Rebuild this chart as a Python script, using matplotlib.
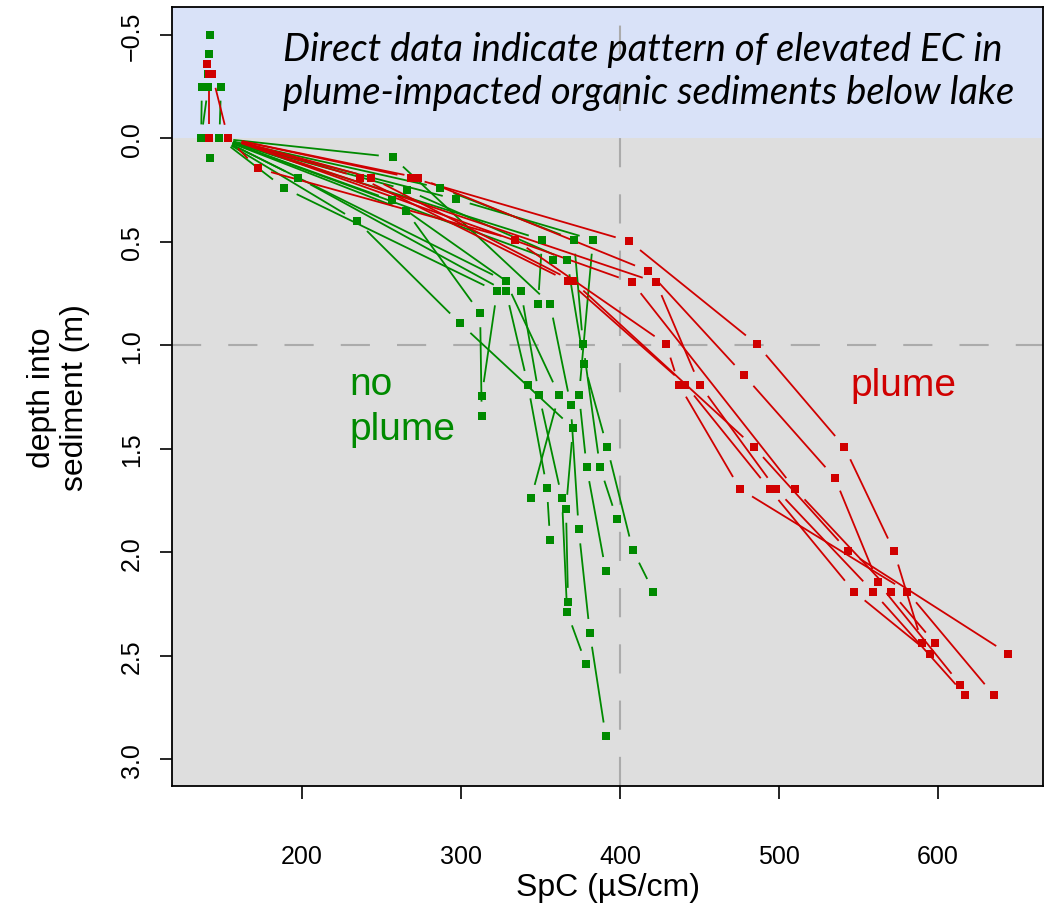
import matplotlib
matplotlib.use('Agg')
import matplotlib.pyplot as plt
import numpy as np
from matplotlib.collections import LineCollection

plt.rcParams['font.family'] = ['Liberation Sans', 'DejaVu Sans']

# colours
green = '#008A00'
red = '#D00000'

# lake water column profiles (SpC, depth below lake bed; negative = in lake)
gw1_spc = [142.4, 141.5, 141.0, 141.0, 136.5, 142.0]
gw1_depth = [-0.50, -0.41, -0.31, -0.25, 0.0, 0.097]
gw2_spc = [149.0, 148.0]
gw2_depth = [-0.25, 0.0]
gw3_spc = [137.0, 136.5]
gw3_depth = [-0.25, 0.0]
rw1_spc = [140.3, 141.5, 141.5]
rw1_depth = [-0.36, -0.31, 0.0]
rw2_spc = [143.4, 153.5]
rw2_depth = [-0.31, 0.0]

# no plume sediment profiles
ga_spc = [148, 287, 371, 376.7, 387.4, 398]
ga_depth = [0, 0.24, 0.49, 0.995, 1.59, 1.84]
gb_spc = [148, 266, 366.7, 377.4, 391.8, 408, 421]
gb_depth = [0, 0.25, 0.59, 1.09, 1.49, 1.99, 2.19]
gc_spc = [148, 297, 383, 374.2, 379, 391]
gc_depth = [0, 0.295, 0.49, 1.24, 1.59, 2.09]
gd_spc = [148, 257, 356, 369, 374, 381, 391]
gd_depth = [0, 0.09, 0.80, 1.29, 1.89, 2.39, 2.89]
ge_spc = [148, 256.6, 337.7, 349, 363.5, 366.7, 378.6]
ge_depth = [0, 0.30, 0.74, 1.24, 1.74, 2.29, 2.54]
gf_spc = [148, 197.5, 328.3, 342, 354, 356]
gf_depth = [0, 0.19, 0.74, 1.19, 1.69, 1.94]
gg_spc = [148, 328, 361.6, 344]
gg_depth = [0, 0.69, 1.24, 1.74]
gh_spc = [148, 188.7, 322.6, 313]
gh_depth = [0, 0.24, 0.74, 1.245]
gi_spc = [148, 265.4, 312, 313]
gi_depth = [0, 0.35, 0.845, 1.34]
gj_spc = [148, 234.6, 299.4, 370.4, 366, 367.3]
gj_depth = [0, 0.40, 0.894, 1.40, 1.79, 2.24]
gk_spc = [148, 351, 348.4]
gk_depth = [0, 0.49, 0.80]
gl_spc = [148, 358]
gl_depth = [0, 0.59]

# plume sediment profiles
r1_spc = [153.5, 268.6, 405.7, 486, 541, 572.3, 590]
r1_depth = [0, 0.19, 0.497, 0.995, 1.49, 1.995, 2.44]
r2_spc = [153.5, 273, 417.6, 478, 535, 562, 614]
r2_depth = [0, 0.19, 0.64, 1.145, 1.64, 2.145, 2.64]
r3_spc = [153.5, 172, 334, 429, 437, 475.5, 580.5, 635]
r3_depth = [0, 0.145, 0.49, 0.995, 1.19, 1.695, 2.19, 2.69]
r4_spc = [153.5, 236.5, 367.3, 441, 494, 547, 595]
r4_depth = [0, 0.19, 0.69, 1.19, 1.695, 2.19, 2.49]
r5_spc = [153.5, 243.4, 370.4, 484, 543.4, 644]
r5_depth = [0, 0.19, 0.69, 1.49, 1.995, 2.49]
r6_spc = [153.5, 422.6, 450, 498, 559, 617]
r6_depth = [0, 0.695, 1.19, 1.695, 2.19, 2.69]
r7_spc = [153.5, 407.5, 510, 570.4, 598]
r7_depth = [0, 0.695, 1.695, 2.19, 2.44]

green_profiles = [(gw1_spc, gw1_depth), (gw2_spc, gw2_depth), (gw3_spc, gw3_depth),
                  (ga_spc, ga_depth), (gb_spc, gb_depth), (gc_spc, gc_depth),
                  (gd_spc, gd_depth), (ge_spc, ge_depth), (gf_spc, gf_depth),
                  (gg_spc, gg_depth), (gh_spc, gh_depth), (gi_spc, gi_depth),
                  (gj_spc, gj_depth), (gk_spc, gk_depth), (gl_spc, gl_depth)]
red_profiles = [(rw1_spc, rw1_depth), (rw2_spc, rw2_depth),
                (r1_spc, r1_depth), (r2_spc, r2_depth), (r3_spc, r3_depth),
                (r4_spc, r4_depth), (r5_spc, r5_depth), (r6_spc, r6_depth),
                (r7_spc, r7_depth)]

W, H = 1045, 912
fig = plt.figure(figsize=(W / 100, H / 100), dpi=100)
ax = fig.add_axes([172 / W, 1 - 787 / H, (1043 - 172) / W, (787 - 8) / H])
ax.set_xlim(118.2, 666)
ax.set_ylim(3.13, -0.635)
ax.set_facecolor('#DEDEDE')
ax.axhspan(-0.635, 0, color='#D9E2F8', lw=0, zorder=0)
ax.axvline(400, color='#ABABAB', lw=1.5, ls=(0, (14, 13)), zorder=1)
ax.axhline(1.0, color='#ABABAB', lw=1.5, ls=(0, (14, 13)), zorder=1)

GAP = 14  # pixels left open round each point, like R type="b"


def draw_profile(spc, depth, color):
    pts = ax.transData.transform(np.column_stack([spc, depth]))
    inv = ax.transData.inverted()
    segs = []
    for p0, p1 in zip(pts[:-1], pts[1:]):
        d = p1 - p0
        L = np.hypot(d[0], d[1])
        if L <= 2 * GAP:
            continue
        u = d / L
        segs.append(inv.transform([p0 + u * GAP, p1 - u * GAP]))
    ax.add_collection(LineCollection(segs, colors=color, linewidths=1.3, zorder=2))
    ax.plot(spc, depth, 's', color=color, ms=5.8, mew=0, zorder=3)


for spc, depth in green_profiles:
    draw_profile(spc, depth, green)
for spc, depth in red_profiles:
    draw_profile(spc, depth, red)

# annotations
ax.text(188, -0.43, 'Direct data indicate pattern of elevated EC in',
        family='Lato', style='italic', fontsize=27.5, va='center', ha='left')
ax.text(188, -0.222, 'plume-impacted organic sediments below lake',
        family='Lato', style='italic', fontsize=27.5, va='center', ha='left')
ax.text(229.6, 1.237, 'no', color=green, fontsize=28, ha='left', va='baseline')
ax.text(229.6, 1.454, 'plume', color=green, fontsize=28, ha='left', va='baseline')
ax.text(544.7, 1.241, 'plume', color=red, fontsize=28, ha='left', va='baseline')

# axes
ax.set_xticks([200, 300, 400, 500, 600])
yt = [-0.5, 0.0, 0.5, 1.0, 1.5, 2.0, 2.5, 3.0]
ax.set_yticks(yt)
ax.set_yticklabels(['\u22120.5'] + ['%.1f' % v for v in yt[1:]])
ax.tick_params(axis='both', labelsize=18, length=9, width=1.2, direction='out')
ax.tick_params(axis='x', pad=33)
ax.tick_params(axis='y', pad=11)
plt.setp(ax.get_yticklabels(), rotation=90, va='center')
for s in ax.spines.values():
    s.set_linewidth(1.3)
ax.set_xlabel('SpC (\u00b5S/cm)', fontsize=23, labelpad=3)
ax.set_ylabel('depth into\nsediment (m)', fontsize=23, labelpad=22, linespacing=1.1)

fig.savefig('out.png', dpi=100)
